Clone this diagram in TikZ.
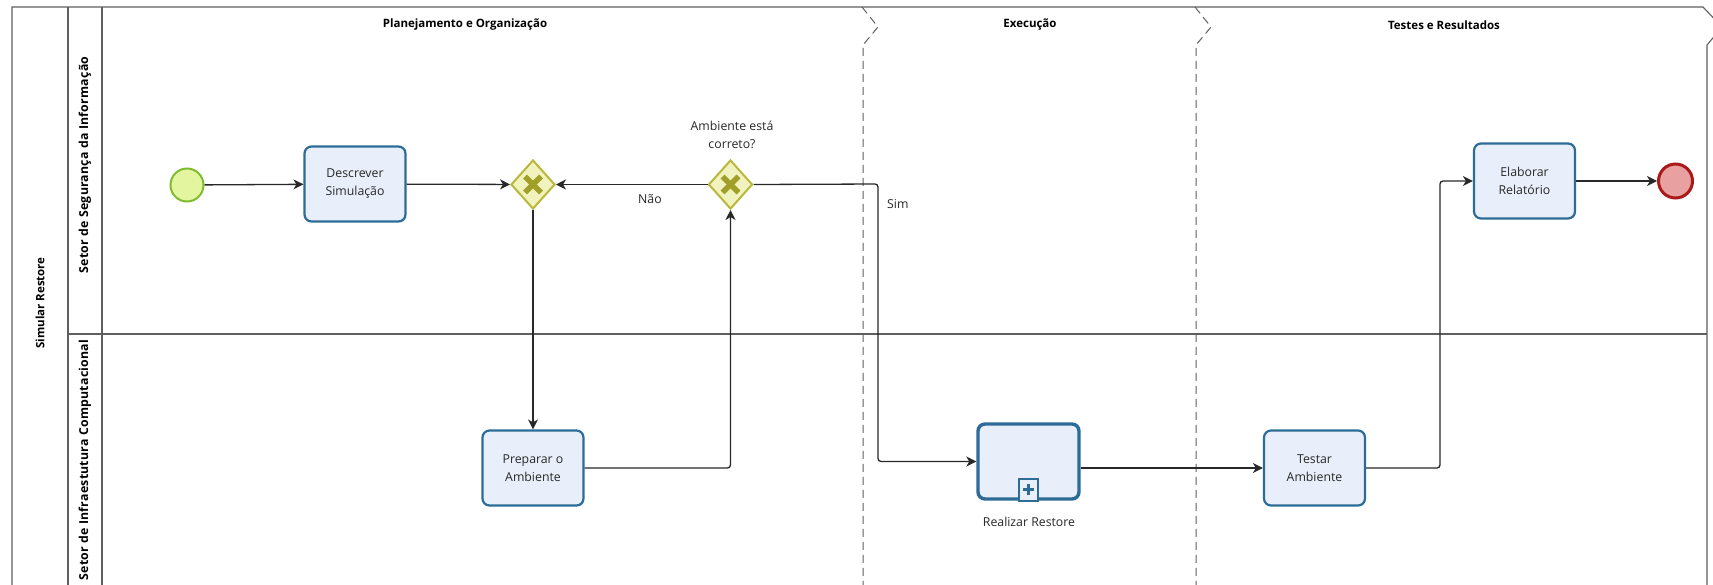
\documentclass[tikz,border=0pt]{standalone}
\usepackage{fontspec}
\setmainfont{Open Sans}
\usetikzlibrary{shapes.geometric,arrows.meta,calc}
\definecolor{taskfill}{RGB}{232,238,250}
\definecolor{taskline}{RGB}{44,108,150}
\definecolor{gwfill}{RGB}{242,242,190}
\definecolor{gwline}{RGB}{184,184,60}
\definecolor{gwx}{RGB}{160,160,40}
\definecolor{startfill}{RGB}{228,245,160}
\definecolor{startline}{RGB}{128,188,48}
\definecolor{endfill}{RGB}{232,160,160}
\definecolor{endline}{RGB}{170,26,26}
\definecolor{poolline}{RGB}{95,95,95}
\definecolor{flowline}{RGB}{40,40,40}
\definecolor{txt}{RGB}{40,40,40}
\tikzset{
  task/.style={draw=taskline, fill=taskfill, line width=2.2pt, rounded corners=7pt,
    minimum width=101pt, minimum height=75pt, align=center, text=txt,
    font=\fontsize{12.3}{18}\selectfont, inner sep=0pt},
  calltask/.style={task, line width=3.4pt},
  gateway/.style={diamond, draw=gwline, fill=gwfill, line width=2pt,
    minimum width=44pt, minimum height=49pt, inner sep=0pt},
  startev/.style={circle, draw=startline, fill=startfill, line width=2pt, minimum size=33pt, inner sep=0pt},
  endev/.style={circle, draw=endline, fill=endfill, line width=3pt, minimum size=34pt, inner sep=0pt},
  flow/.style={draw=flowline, line width=1.3pt, rounded corners=3pt,
    -{Stealth[length=10pt,width=10pt,inset=3pt]}},
  lbl/.style={text=txt, font=\fontsize{12.3}{18}\selectfont, align=center, inner sep=0pt},
  hdr/.style={text=black, font=\bfseries\fontsize{11.5}{14}\selectfont, inner sep=0pt},
  lanehdr/.style={hdr, rotate=90, font=\bfseries\fontsize{12.3}{14}\selectfont\addfontfeature{LetterSpace=2}},
  poolborder/.style={draw=poolline, line width=1.1pt},
  phasesep/.style={draw=poolline, line width=1pt, dash pattern=on 8pt off 5pt},
}
\begin{document}
\begin{tikzpicture}[x=1pt,y=-1pt]
\useasboundingbox[fill=white] (0,0) rectangle (1713,584);
% pool and lanes
\draw[poolborder] (12,590) -- (12,7) -- (1703,7) -- (1722,27) -- (1707,45) -- (1707,590);
\draw[poolborder] (68,7) -- (68,590);
\draw[poolborder] (102,7) -- (102,590);
\draw[poolborder] (68,334) -- (1707,334);
% phase separators
\draw[phasesep] (862,7) -- (878,27) -- (863,45) -- (863,590);
\draw[phasesep] (1195,7) -- (1211,27) -- (1196,45) -- (1196,590);
% headers
\node[hdr, rotate=90] (pool) at (40,303) {Simular Restore};
\node[lanehdr] (lane1) at (85,165) {Setor de Segurança da Informação};
\node[lanehdr] (lane2) at (85,460) {Setor de Infraestutura Computacional};
\node[hdr] (ph1) at (465,25) {Planejamento e Organização};
\node[hdr] (ph2) at (1030,25) {Execução};
\node[hdr] (ph3) at (1444,25) {Testes e Resultados};
% nodes
\node[startev] (start) at (187,185) {};
\node[task] (desc) at (355,184) {Descrever\\Simulação};
\node[gateway] (gw1) at (533,184.5) {};
\node[gateway] (gw2) at (730.5,184.5) {};
\node[lbl] (q) at (732,135) {Ambiente está\\correto?};
\node[task] (prep) at (533,468) {Preparar o\\Ambiente};
\node[calltask] (real) at (1028.5,461.5) {};
\node[lbl] (reallbl) at (1029,522) {Realizar Restore};
\node[task] (test) at (1314.5,468) {Testar\\Ambiente};
\node[task] (elab) at (1524.5,181) {Elaborar\\Relatório};
\node[endev] (end) at (1675.5,181) {};
% gateway X marks
\foreach \g in {gw1,gw2}{
  \draw[gwx, line width=5.5pt] ($(\g)+(-8,-8)$) -- ($(\g)+(8,8)$);
  \draw[gwx, line width=5.5pt] ($(\g)+(-8,8)$) -- ($(\g)+(8,-8)$);
}
% subprocess marker
\draw[taskline, line width=1.6pt, fill=taskfill] ($(real.south)+(-9.5,-22)$) rectangle ($(real.south)+(9.5,0)$);
\draw[taskline, line width=3.4pt] ($(real.south)+(-5.5,-11)$) -- ($(real.south)+(5.5,-11)$);
\draw[taskline, line width=3.4pt] ($(real.south)+(0,-16.5)$) -- ($(real.south)+(0,-5.5)$);
% connectors
\coordinate (c1) at (878,184);
\coordinate (c2) at (1440,468);
\draw[flow] (start) -- (desc);
\draw[flow] (desc) -- (gw1);
\draw[flow] (gw2.west) -- node[lbl, pos=0.38, below=9pt] (nao) {Não} (gw1.east);
\draw[flow] (gw1.south) -- (prep.north);
\draw[flow] (prep.east) -| (gw2.south);
\draw[flow] (gw2.east) -- (c1) |- (real.west);
\node[lbl, anchor=north west] (sim) at ($(c1)+(9,15)$) {Sim};
\draw[flow] (real.east |- test.west) -- (test.west);
\draw[flow] (test.east) -- (c2) |- (elab.west);
\draw[flow] (elab) -- (end);
\end{tikzpicture}
\end{document}
